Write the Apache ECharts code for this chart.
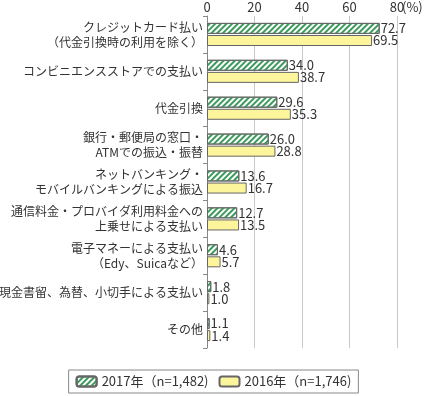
<!DOCTYPE html>
<html>
<head>
<meta charset="utf-8">
<script src="https://cdn.jsdelivr.net/npm/echarts@6/dist/echarts.min.js"></script>
<style>
  html, body { margin: 0; padding: 0; background: #fff; }
  #chart { width: 427px; height: 396px; }
</style>
</head>
<body>
<div id="chart"></div>
<script>
// カテゴリ（上から順）
var categories = [
  'クレジットカード払い\n（代金引換時の利用を除く）',
  'コンビニエンスストアでの支払い',
  '代金引換',
  '銀行・郵便局の窓口・\nATMでの振込・振替',
  'ネットバンキング・\nモバイルバンキングによる振込',
  '通信料金・プロバイダ利用料金への\n上乗せによる支払い',
  '電子マネーによる支払い\n（Edy、Suicaなど）',
  '現金書留、為替、小切手による支払い',
  'その他'
];
var seriesNames = ['2017年（n=1,482)', '2016年（n=1,746)'];
var values2017 = [72.7, 34.0, 29.6, 26.0, 13.6, 12.7, 4.6, 1.8, 1.1];
var values2016 = [69.5, 38.7, 35.3, 28.8, 16.7, 13.5, 5.7, 1.0, 1.4];
var xTicks = [0, 20, 40, 60, 80];
var unitText = '(%)';

var font = '"Noto Sans CJK JP", "Noto Sans", sans-serif';

var chart = echarts.init(document.getElementById('chart'));

var valueLabel = {
  show: true,
  position: 'right',
  distance: 1,
  color: '#333',
  fontSize: 13,
  fontFamily: font,
  formatter: function (p) { return p.value.toFixed(1); }
};

chart.setOption({
  animation: false,
  textStyle: { fontFamily: font },
  grid: {
    left: 207,
    right: 30,
    top: 16,
    bottom: 48,
    outerBoundsMode: 'none'
  },
  legend: {
    bottom: 3,
    left: 'center',
    itemWidth: 20,
    itemHeight: 10,
    itemGap: 10,
    borderColor: '#888',
    borderWidth: 1,
    borderRadius: 0,
    padding: [5, 7, 5, 7],
    textStyle: { color: '#333', fontSize: 13, fontFamily: font },
    data: seriesNames
  },
  xAxis: {
    type: 'value',
    position: 'top',
    min: xTicks[0],
    max: xTicks[xTicks.length - 1],
    interval: 20,
    axisLine: { show: false },
    axisTick: { show: false },
    axisLabel: {
      color: '#333',
      fontSize: 13,
      margin: 2,
      fontFamily: font
    },
    splitLine: { show: true, lineStyle: { color: '#c8c8c8', width: 1 } }
  },
  yAxis: {
    type: 'category',
    inverse: true,
    data: categories,
    axisLine: { show: true, lineStyle: { color: '#888', width: 1 } },
    axisTick: { show: true, length: 4, lineStyle: { color: '#888' } },
    axisLabel: {
      color: '#333',
      fontSize: 12,
      lineHeight: 15,
      margin: 4,
      fontFamily: font
    }
  },
  series: [
    {
      name: seriesNames[0],
      type: 'bar',
      data: values2017,
      barWidth: 11,
      barGap: '10%',
      itemStyle: {
        color: '#ffffff',
        borderColor: '#666',
        borderWidth: 1,
        decal: {
          symbol: 'rect',
          color: '#3c9b5c',
          dashArrayX: [1, 0],
          dashArrayY: [1.6, 1.4],
          rotation: -Math.PI / 4
        }
      },
      label: valueLabel
    },
    {
      name: seriesNames[1],
      type: 'bar',
      data: values2016,
      barWidth: 11,
      itemStyle: {
        color: '#fdf59b',
        borderColor: '#666',
        borderWidth: 1
      },
      label: valueLabel
    }
  ]
});

// 単位 (%) を最大目盛ラベルの右側に配置
var maxX = chart.convertToPixel({ xAxisIndex: 0 }, xTicks[xTicks.length - 1]);
chart.setOption({
  graphic: [{
    type: 'text',
    x: maxX + 5,
    y: 7,
    style: {
      text: unitText,
      fill: '#333',
      fontSize: 13,
      fontFamily: font,
      verticalAlign: 'middle',
      align: 'left'
    }
  }]
});
</script>
</body>
</html>
